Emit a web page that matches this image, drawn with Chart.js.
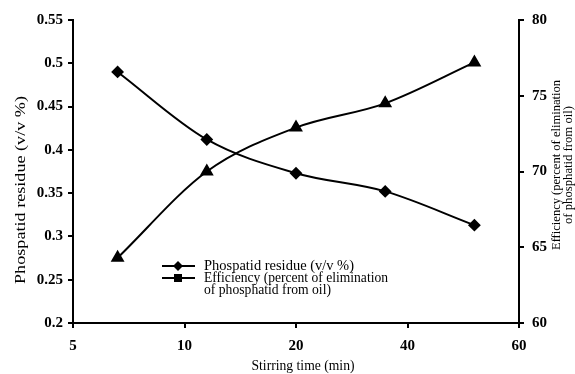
<!DOCTYPE html>
<html>
<head>
<meta charset="utf-8">
<script src="https://cdn.jsdelivr.net/npm/chart.js@4/dist/chart.umd.min.js"></script>
<style>
  html, body { margin: 0; padding: 0; background: #fff; }
  #wrap { width: 575px; height: 374px; }
</style>
</head>
<body>
<div id="wrap"><canvas id="chart" width="575" height="374"></canvas></div>
<script>
// Werte
const xTickLabels = [5, 10, 20, 40, 60];          // x-Achse: gleichmaessig verteilte Beschriftungen
const stirringTime = [7, 12, 20, 36, 52];         // min
const residue = [0.490, 0.412, 0.373, 0.352, 0.313];   // v/v %
const efficiency = [64.3, 70.0, 72.9, 74.5, 77.2];     // %

const serif = "'Liberation Serif', 'DejaVu Serif', serif";

// x-Achse ist nicht linear: Position zwischen den Beschriftungen interpolieren
function axisPos(t) {
    for (let i = 0; i < xTickLabels.length - 1; i++) {
        let a = xTickLabels[i], b = xTickLabels[i + 1];
        if (t <= b) return i + (t - a) / (b - a);
    }
    return xTickLabels.length - 1;
}

// Text auf eine bestimmte Breite strecken (Original ist etwas breit gezogen)
function fitText(ctx, text, x, y, width, align) {
    let w = ctx.measureText(text).width;
    let sx = width / w;
    ctx.save();
    ctx.translate(x, y);
    ctx.scale(sx, 1);
    ctx.textAlign = align;
    ctx.fillText(text, 0, 0);
    ctx.restore();
}

const titles = {
    id: 'titles',
    afterDraw(chart) {
        let ctx = chart.ctx;
        ctx.save();
        ctx.fillStyle = '#000';
        ctx.textBaseline = 'middle';
        ctx.font = '14px ' + serif;
        fitText(ctx, 'Stirring time (min)', 303, 366, 103, 'center');

        ctx.save();
        ctx.translate(21, 190);
        ctx.rotate(-Math.PI / 2);
        fitText(ctx, 'Phospatid residue (v/v %)', 0, 0, 188, 'center');
        ctx.restore();

        ctx.font = '13px ' + serif;
        ctx.save();
        ctx.translate(557, 165);
        ctx.rotate(-Math.PI / 2);
        fitText(ctx, 'Efficiency (percent of elimination', 0, 0, 170, 'center');
        fitText(ctx, 'of phosphatid from oil)', 0, 12, 118, 'center');
        ctx.restore();

        // Legende im Diagramm
        ctx.strokeStyle = '#000';
        ctx.lineWidth = 2;
        ctx.beginPath();
        ctx.moveTo(162, 266); ctx.lineTo(195, 266);
        ctx.moveTo(162, 278); ctx.lineTo(195, 278);
        ctx.stroke();
        ctx.beginPath();
        ctx.moveTo(178, 261); ctx.lineTo(183, 266); ctx.lineTo(178, 271); ctx.lineTo(173, 266);
        ctx.closePath();
        ctx.fill();
        ctx.fillRect(174, 274, 8, 8);
        ctx.font = '14px ' + serif;
        fitText(ctx, 'Phospatid residue (v/v %)', 204, 266, 150, 'left');
        fitText(ctx, 'Efficiency (percent of elimination', 204, 278, 184, 'left');
        fitText(ctx, 'of phosphatid from oil)', 204, 290, 127, 'left');
        ctx.restore();
    }
};

const tickFont = { family: serif, size: 15, weight: 'bold' };
const axisGrid = { drawOnChartArea: false, color: '#000', lineWidth: 2, tickLength: 5, tickWidth: 2 };

let canvas = document.getElementById('chart');
canvas.chart = new Chart(canvas.getContext('2d'), {
    type: 'line',
    data: {
        datasets: [{
            label: 'Phospatid residue (v/v %)',
            data: stirringTime.map((t, i) => ({ x: axisPos(t), y: residue[i] })),
            yAxisID: 'y',
            borderColor: '#000',
            backgroundColor: '#000',
            borderWidth: 2,
            pointStyle: 'rectRot',
            pointRadius: 5,
            tension: 0.4,
            cubicInterpolationMode: 'monotone'
        }, {
            label: 'Efficiency (percent of elimination of phosphatid from oil)',
            data: stirringTime.map((t, i) => ({ x: axisPos(t), y: efficiency[i] })),
            yAxisID: 'y2',
            borderColor: '#000',
            backgroundColor: '#000',
            borderWidth: 2,
            pointStyle: 'triangle',
            pointRadius: 6,
            tension: 0.4,
            cubicInterpolationMode: 'monotone'
        }]
    },
    options: {
        responsive: false,
        animation: false,
        layout: { padding: { top: 20, left: 0, right: 0, bottom: 0 } },
        plugins: { legend: { display: false }, tooltip: { enabled: false } },
        scales: {
            x: {
                type: 'linear',
                min: 0,
                max: xTickLabels.length - 1,
                grid: axisGrid,
                border: { color: '#000', width: 2 },
                ticks: {
                    stepSize: 1,
                    color: '#000',
                    font: tickFont,
                    padding: 9,
                    callback: v => xTickLabels[v]
                },
                afterFit: s => { s.height = 51; }
            },
            y: {
                position: 'left',
                min: 0.2,
                max: 0.55,
                grid: axisGrid,
                border: { color: '#000', width: 2 },
                ticks: { stepSize: 0.05, color: '#000', font: tickFont, padding: 5,
                         callback: v => +v.toFixed(2) },
                afterFit: s => { s.width = 73; }
            },
            y2: {
                position: 'right',
                min: 60,
                max: 80,
                grid: axisGrid,
                border: { color: '#000', width: 2 },
                ticks: { stepSize: 5, color: '#000', font: tickFont, padding: 8 },
                afterFit: s => { s.width = 56; }
            }
        }
    },
    plugins: [titles]
});
</script>
</body>
</html>
